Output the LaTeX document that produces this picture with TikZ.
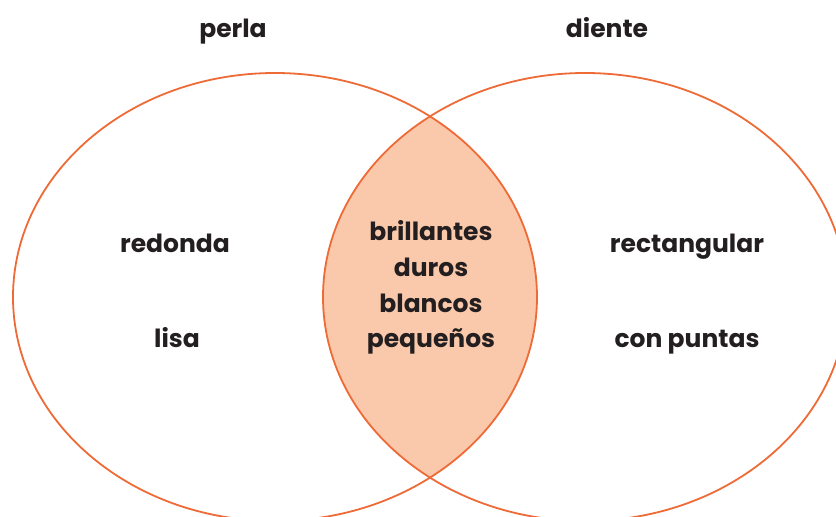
\documentclass[tikz,border=0pt]{standalone}
\usepackage{fontspec}
\setmainfont{Poppins}[UprightFont=* Bold]
\definecolor{vline}{HTML}{EE6A36}
\definecolor{vfill}{HTML}{FAC8AA}
\definecolor{vtext}{HTML}{231F20}
\begin{document}
\begin{tikzpicture}[x=1pt,y=-1pt,
  lbl/.style={anchor=base,text=vtext,font=\fontsize{25}{29}\selectfont,inner sep=0pt},
  ring/.style={draw=vline,line width=1.8pt}]
\useasboundingbox (0,0) rectangle (836,517);
\begin{scope}
  \clip (275,297) ellipse [x radius=262, y radius=224];
  \fill[vfill] (585,297) ellipse [x radius=262, y radius=224];
\end{scope}
\draw[ring] (275,297) ellipse [x radius=262, y radius=224];
\draw[ring] (585,297) ellipse [x radius=262, y radius=224];
\node[lbl] (perla) at (233,37) {perla};
\node[lbl] (diente) at (607,37) {diente};
\node[lbl] (redonda) at (175,252) {redonda};
\node[lbl] (lisa) at (177,347) {lisa};
\node[lbl] (c1) at (431,240) {brillantes};
\node[lbl] (c2) at (431,276) {duros};
\node[lbl] (c3) at (431,312) {blancos};
\node[lbl] (c4) at (431,347) {pequeños};
\node[lbl] (rect) at (687,252) {rectangular};
\node[lbl] (puntas) at (687,347) {con puntas};
\end{tikzpicture}
\end{document}
